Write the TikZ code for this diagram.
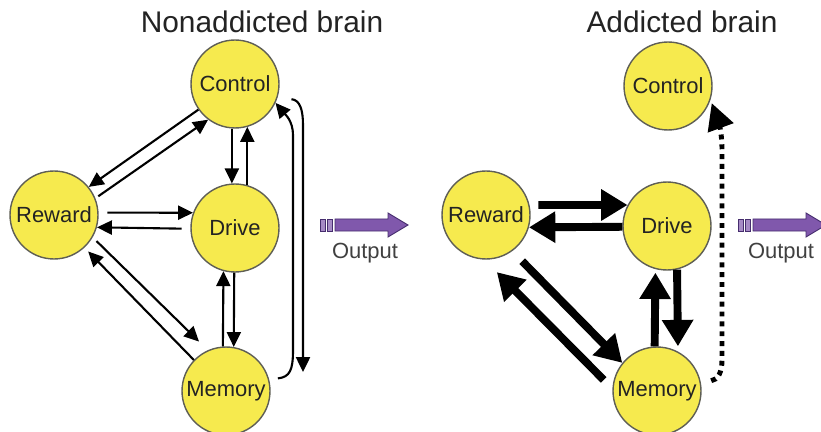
\documentclass[tikz,border=0pt]{standalone}
\usepackage{fontspec}
\setmainfont{Liberation Sans}
\usepackage{tikz}
\usetikzlibrary{arrows.meta,positioning}

\definecolor{brainyellow}{RGB}{246,234,78}
\definecolor{brainedge}{RGB}{95,95,85}
\definecolor{outpurple}{RGB}{128,88,172}
\definecolor{outedge}{RGB}{70,45,110}
\definecolor{txtgray}{RGB}{35,35,35}

\begin{document}
\begin{tikzpicture}[
        x=0.02cm, y=-0.02cm,
        region/.style={circle, draw=brainedge, line width=0.8pt, fill=brainyellow, minimum size=1.76cm, inner sep=0pt, font=\fontsize{12.5}{14}\selectfont, text=txtgray},
        title/.style={anchor=base, font=\fontsize{17}{20}\selectfont, text=txtgray},
        outlabel/.style={anchor=base, font=\fontsize{12.5}{14}\selectfont, text=black!75},
        thinarrow/.style={-{Triangle[length=8.5pt,width=8pt]}, line width=1.2pt, draw=black},
        fatarrow/.style={-{Triangle[length=15pt,width=17pt]}, line width=4.5pt},
        dotarrow/.style={-{Triangle[length=15pt,width=15pt]}, line width=2.8pt, dash pattern=on 2.8pt off 2.8pt},
        outbar/.style={fill=outpurple, draw=outedge, line width=0.5pt}
    ]
    \useasboundingbox (0,0) rectangle (821,432);

    % Nonaddicted brain
    \node[title] (tnon) at (262,33) {Nonaddicted brain};
    \node[region] (ctrlL) at (235,84) {Control};
    \node[region] (rewL) at (54,215) {Reward};
    \node[region] (drvL) at (235,228) {Drive};
    \node[region] (memL) at (226,391) {Memory};
    \coordinate (memLtap) at (303,372);

    \draw[thinarrow] (ctrlL.215) -- (rewL.39);
    \draw[thinarrow, shorten <=2pt] (rewL.22) -- (ctrlL.233);
    \draw[thinarrow] (ctrlL.266) -- (drvL.94);
    \draw[thinarrow] (drvL.74) -- (ctrlL.286);
    \draw[thinarrow, shorten <=5pt] (rewL.3) -- (drvL.160);
    \draw[thinarrow, shorten <=5pt] (drvL.181) -- (rewL.-16);
    \draw[thinarrow, shorten <=3pt, shorten >=7pt] (rewL.-30) -- (memL.114);
    \draw[thinarrow, shorten >=3pt] (memL.136) -- (rewL.-47);
    \draw[thinarrow] (memL.94) -- (drvL.255);
    \draw[thinarrow] (drvL.269) -- (memL.80);
    \draw[thinarrow, shorten <=5pt] (memL.15) .. controls (290,377) and (293,370) .. (293,350)
        -- (293,135) to[out=90,in=-50] (ctrlL.-25);
    \draw[thinarrow, shorten <=8pt] (ctrlL.-18) .. controls (300,100) and (303,110) .. (303,125)
        -- (memLtap);

    % output
    \begin{scope}[shift={(320,225)}]
        \draw[outbar, fill=outpurple!70] (0,-6) rectangle (5,6);
        \draw[outbar, fill=outpurple!70] (7,-6) rectangle (12,6);
        \draw[outbar] (15,-6) -- (68,-6) -- (68,-12) -- (88,0) -- (68,12) -- (68,6) -- (15,6) -- cycle;
    \end{scope}
    \node[outlabel] (outL) at (365,258) {Output};

    % Addicted brain
    \node[title] (tadd) at (682,33) {Addicted brain};
    \node[region] (ctrlR) at (668,86) {Control};
    \node[region] (rewR) at (486,215) {Reward};
    \node[region] (drvR) at (667,226) {Drive};
    \node[region] (memR) at (657,391) {Memory};

    \draw[fatarrow, shorten <=5pt] (rewR.13) -- (drvR.152);
    \draw[fatarrow] (drvR.181) -- (rewR.-16);
    \draw[fatarrow, shorten <=8pt] (rewR.-54) -- (memR.141);
    \draw[fatarrow, shorten <=7pt, shorten >=10pt] (memR.177) -- (rewR.-92);
    \draw[fatarrow, shorten >=2pt] (memR.93) -- (drvR.255);
    \draw[fatarrow, shorten >=3pt] (drvR.283) -- (memR.62);
    \draw[dotarrow, shorten <=6pt, shorten >=2pt] (memR.12) .. controls (718,380) and (722,372) .. (722,360)
        -- (722,150) to[out=90,in=-70] (ctrlR.-18);

    % output
    \begin{scope}[shift={(738,225)}]
        \draw[outbar, fill=outpurple!70] (0,-6) rectangle (5,6);
        \draw[outbar, fill=outpurple!70] (7,-6) rectangle (12,6);
        \draw[outbar] (15,-6) -- (68,-6) -- (68,-12) -- (88,0) -- (68,12) -- (68,6) -- (15,6) -- cycle;
    \end{scope}
    \node[outlabel] (outR) at (781,258) {Output};
\end{tikzpicture}
\end{document}
